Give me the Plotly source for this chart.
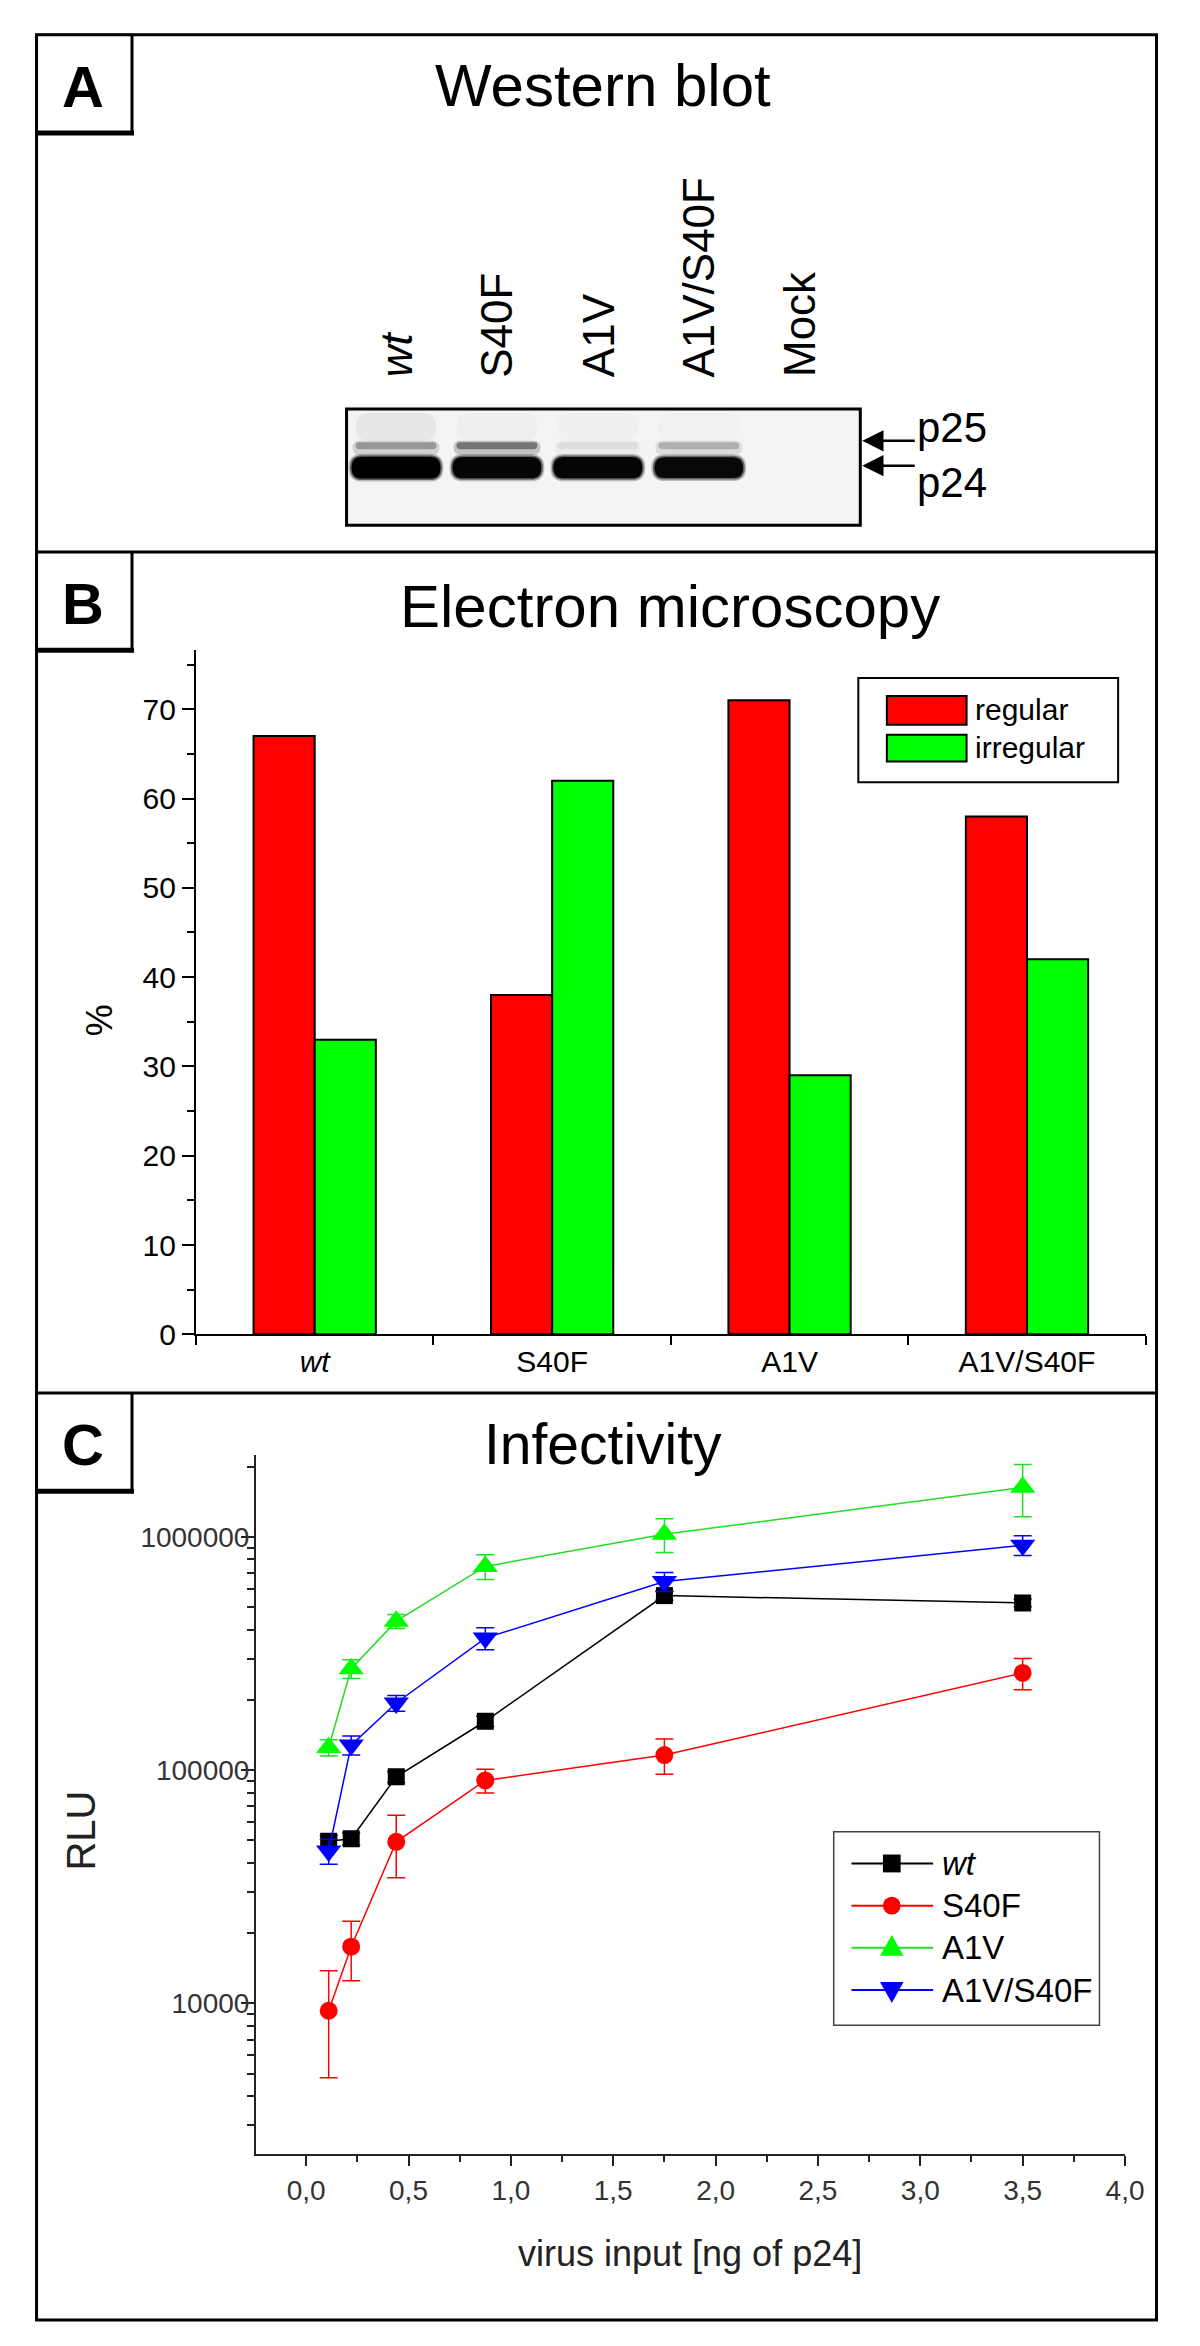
import plotly.graph_objects as go

W, H = 1200, 2346
FONT = "Liberation Sans, Arial, sans-serif"

# panel A: western blot, relative band signal per lane (read from the blot)
blot_lanes = ["<i>wt</i>", "S40F", "A1V", "A1V/S40F", "Mock"]
p24_signal = [1.0, 0.95, 0.95, 0.92, 0.0]
p25_signal = [0.55, 0.8, 0.12, 0.4, 0.0]
smear_signal = [0.05, 0.025, 0.02, 0.015, 0.0]

# panel B: electron microscopy, % of particles
em_labels = ["<i>wt</i>", "S40F", "A1V", "A1V/S40F"]
regular = [67, 38, 71, 58]
irregular = [33, 62, 29, 42]

# panel C: infectivity, RLU vs virus input (ng p24)
virus_input = [0.11, 0.22, 0.44, 0.875, 1.75, 3.5]
rlu_wt = [49500, 50800, 93600, 162000, 560000, 521000]
rlu_wt_err = [3000, 3000, 5000, 8000, 25000, 20000]
rlu_s40f = [9300, 17500, 49300, 90300, 116000, 261000]
rlu_s40f_err = [4500, 5000, 14700, 10500, 20000, 40000]
rlu_a1v = [125000, 272000, 435000, 747000, 1026000, 1630000]
rlu_a1v_err = [10000, 25000, 30000, 90000, 170000, 410000]
rlu_a1v_s40f = [45000, 128000, 194000, 368000, 643000, 921000]
rlu_a1v_s40f_err = [5500, 12000, 15000, 40000, 60000, 90000]


def px(x):
    return x / W


def py(y):
    return 1 - y / H


def note(text, x, y, size, color="black", xanchor="center", yanchor="middle", **kw):
    return dict(text=text, xref="paper", yref="paper", x=px(x), y=py(y), xanchor=xanchor, yanchor=yanchor,
                showarrow=False, font=dict(family=FONT, size=size, color=color), **kw)


fig = go.Figure()

# ---- panel B bars
fig.add_trace(go.Bar(x=em_labels, y=regular, name="regular", marker=dict(color="#ff0000", line=dict(color="black", width=2)),
                     xaxis="x", yaxis="y", showlegend=False))
fig.add_trace(go.Bar(x=em_labels, y=irregular, name="irregular", marker=dict(color="#00ff00", line=dict(color="black", width=2)),
                     xaxis="x", yaxis="y", showlegend=False))

# ---- panel C lines
series = [
    ("<i>wt</i>", rlu_wt, rlu_wt_err, "black", "black", "square", 17),
    ("S40F", rlu_s40f, rlu_s40f_err, "#ff0000", "#ff0000", "circle", 18),
    ("A1V", rlu_a1v, rlu_a1v_err, "#22dd22", "#00ff00", "triangle-up", 22),
    ("A1V/S40F", rlu_a1v_s40f, rlu_a1v_s40f_err, "#0000ff", "#0000ff", "triangle-down", 22),
]
for name, vals, errs, color, mcolor, symbol, size in series:
    fig.add_trace(go.Scatter(
        x=virus_input, y=vals, name=name, mode="lines+markers",
        line=dict(color=color, width=1.5),
        marker=dict(symbol=symbol, size=size, color=mcolor),
        error_y=dict(type="data", array=errs, color=color, thickness=1.5, width=9),
        xaxis="x2", yaxis="y2", showlegend=False,
    ))

# ---- panel A: invisible anchor trace for the blot axes
fig.add_trace(go.Scatter(x=list(range(len(blot_lanes))), y=[0] * len(blot_lanes), mode="markers",
                         marker=dict(opacity=0), hoverinfo="skip", showlegend=False, xaxis="x3", yaxis="y3"))

shapes = []
annotations = []

# outer frame and panel dividers
shapes.append(dict(type="rect", xref="paper", yref="paper", x0=px(29), x1=px(1167), y0=py(27), y1=py(2329),
                   line=dict(color="black", width=3)))
for yd in (548, 1395):
    shapes.append(dict(type="line", xref="paper", yref="paper", x0=px(29), x1=px(1167), y0=py(yd), y1=py(yd),
                       line=dict(color="black", width=3)))

# panel letter boxes
for letter, top in (("A", 27), ("B", 548), ("C", 1395)):
    bottom = top + 99
    shapes.append(dict(type="rect", xref="paper", yref="paper", x0=px(29), x1=px(126), y0=py(top), y1=py(bottom),
                       line=dict(color="black", width=2)))
    shapes.append(dict(type="line", xref="paper", yref="paper", x0=px(126), x1=px(126), y0=py(top), y1=py(bottom + 2),
                       line=dict(color="black", width=3)))
    shapes.append(dict(type="line", xref="paper", yref="paper", x0=px(29), x1=px(128), y0=py(bottom), y1=py(bottom),
                       line=dict(color="black", width=5)))
    annotations.append(note(f"<b>{letter}</b>", 76, top + 52, 58))

# titles
annotations.append(note("Western blot", 605, 78, 60))
annotations.append(note("Electron microscopy", 673, 603, 60))
annotations.append(note("Infectivity", 605, 1446, 57))

# ---- western blot drawing (blot axes in lane units x, pixel units y)
LANE_PX = 102.5


def band_path(xc, yc, half_w, half_h):
    r = half_h / LANE_PX
    x0, x1 = xc - half_w, xc + half_w
    y0, y1 = yc - half_h, yc + half_h
    return (f"M{x0 + r},{y0} L{x1 - r},{y0} Q{x1},{y0} {x1},{yc} Q{x1},{y1} {x1 - r},{y1} "
            f"L{x0 + r},{y1} Q{x0},{y1} {x0},{yc} Q{x0},{y0} {x0 + r},{y0} Z")


shapes.append(dict(type="rect", xref="x3 domain", yref="y3 domain", x0=0, x1=1, y0=0, y1=1,
                   fillcolor="#f4f4f4", line=dict(width=0), layer="below"))
for i, (s24, s25, sm) in enumerate(zip(p24_signal, p25_signal, smear_signal)):
    if sm > 0:
        shapes.append(dict(type="path", xref="x3", yref="y3", path=band_path(i, 18, 0.4, 14),
                           fillcolor="black", opacity=sm, line=dict(width=0)))
    if s25 > 0:
        shapes.append(dict(type="path", xref="x3", yref="y3", path=band_path(i, 39, 0.43, 7),
                           fillcolor="black", opacity=0.25 * s25, line=dict(width=0)))
        shapes.append(dict(type="path", xref="x3", yref="y3", path=band_path(i, 37, 0.40, 3.5),
                           fillcolor="black", opacity=0.5 * s25, line=dict(width=0)))
    if s24 > 0:
        hh = 5 + 6 * s24
        shapes.append(dict(type="path", xref="x3", yref="y3", path=band_path(i, 59, 0.47, hh + 3),
                           fillcolor="black", opacity=0.25 * s24, line=dict(width=0)))
        shapes.append(dict(type="path", xref="x3", yref="y3", path=band_path(i, 59, 0.455, hh + 1.5),
                           fillcolor="black", opacity=0.5 * s24, line=dict(width=0)))
        shapes.append(dict(type="path", xref="x3", yref="y3", path=band_path(i, 59, 0.44, hh),
                           fillcolor="black", opacity=s24, line=dict(width=0)))
shapes.append(dict(type="rect", xref="x3 domain", yref="y3 domain", x0=0, x1=1, y0=0, y1=1,
                   line=dict(color="black", width=3)))

for i, lane in enumerate(blot_lanes):
    annotations.append(dict(text=lane, xref="x3", yref="paper", x=i, y=py(374), xanchor="center",
                            yanchor="bottom", textangle=-90, showarrow=False,
                            font=dict(family=FONT, size=44, color="black")))

for label, y_arrow, y_text in (("p25", 436, 423), ("p24", 461, 478)):
    annotations.append(dict(text="", xref="paper", yref="paper", x=px(868), y=py(y_arrow), ax=54, ay=0,
                            showarrow=True, arrowhead=2, arrowsize=1.7, arrowwidth=2.5, arrowcolor="black"))
    annotations.append(note(label, 922, y_text, 42, xanchor="left"))

# ---- panel B legend and axis title
shapes.append(dict(type="rect", xref="paper", yref="paper", x0=px(864), x1=px(1128), y0=py(675), y1=py(780),
                   line=dict(color="black", width=2)))
for name, color, top, bottom, yc in (("regular", "#ff0000", 693, 722, 707), ("irregular", "#00ff00", 732, 759, 745)):
    shapes.append(dict(type="rect", xref="paper", yref="paper", x0=px(893), x1=px(974), y0=py(top), y1=py(bottom),
                       fillcolor=color, line=dict(color="black", width=2)))
    annotations.append(note(name, 981, yc, 30, xanchor="left"))
annotations.append(note("%", 93, 1020, 36, textangle=-90))

# ---- panel C legend (drawn as a box with line + marker samples)
shapes.append(dict(type="rect", xref="paper", yref="paper", x0=px(839), x1=px(1109), y0=py(1837), y1=py(2032),
                   line=dict(color="#444", width=1.5), fillcolor="white", layer="above"))
for k, (name, _, _, color, mcolor, symbol, _) in enumerate(series):
    yc = 1869 + 42.5 * k
    shapes.append(dict(type="line", xref="paper", yref="paper", x0=px(857), x1=px(940), y0=py(yc), y1=py(yc),
                       line=dict(color=color, width=2)))
    if symbol == "square":
        shapes.append(dict(type="rect", xref="paper", yref="paper", x0=px(889), x1=px(907), y0=py(yc - 9),
                           y1=py(yc + 9), fillcolor=mcolor, line=dict(width=0)))
    elif symbol == "circle":
        shapes.append(dict(type="circle", xref="paper", yref="paper", x0=px(889), x1=px(907), y0=py(yc - 9),
                           y1=py(yc + 9), fillcolor=mcolor, line=dict(width=0)))
    else:
        sgn = 1 if symbol == "triangle-up" else -1
        path = (f"M{px(886)},{py(yc + 8 * sgn)} L{px(910)},{py(yc + 8 * sgn)} "
                f"L{px(898)},{py(yc - 13 * sgn)} Z")
        shapes.append(dict(type="path", xref="paper", yref="paper", path=path, fillcolor=mcolor,
                           line=dict(width=0)))
    annotations.append(note(name, 947, yc, 33, xanchor="left"))

# ---- panel C axis titles
annotations.append(note("RLU", 74, 1836, 40, color="#222", textangle=-90))
annotations.append(note("virus input [ng of p24]", 693, 2262, 36, color="#222"))

log_minor = [m * 10 ** e for e in (3, 4, 5, 6) for m in range(2, 10)]

fig.update_layout(
    width=W, height=H, autosize=False,
    margin=dict(l=0, r=0, t=0, b=0),
    paper_bgcolor="white", plot_bgcolor="white",
    separators=",.", showlegend=False,
    barmode="group", bargap=0.485, bargroupgap=0,
    font=dict(family=FONT, color="black"),
    shapes=shapes, annotations=annotations,
    xaxis=dict(domain=[px(191), px(1156)], anchor="y", type="category", range=[-0.5, 3.5],
               showline=True, linecolor="black", linewidth=2, ticks="outside", tickson="boundaries",
               ticklen=9, tickwidth=2, tickcolor="black", tickfont=dict(size=30), showgrid=False,
               zeroline=False, fixedrange=True),
    yaxis=dict(domain=[py(1336), py(647)], anchor="x", range=[0, 76.6], dtick=10, tick0=0,
               showline=True, linecolor="black", linewidth=2, ticks="outside", ticklen=12, tickwidth=2,
               tickcolor="black", tickfont=dict(size=30),
               minor=dict(dtick=5, tick0=0, ticks="outside", ticklen=7, tickwidth=2, tickcolor="black"),
               showgrid=False, zeroline=False, fixedrange=True),
    xaxis2=dict(domain=[px(252), px(1135)], anchor="y2", range=[-0.245, 4.0], dtick=0.5, tick0=0,
                tickformat=".1f", showline=True, linecolor="#222", linewidth=2, ticks="outside",
                ticklen=10, tickwidth=2, tickcolor="#222", tickfont=dict(size=28, color="#333"),
                minor=dict(dtick=0.25, tick0=0, ticks="outside", ticklen=6, tickwidth=2, tickcolor="#222"),
                showgrid=False, zeroline=False, fixedrange=True),
    yaxis2=dict(domain=[py(2162), py(1458)], anchor="x2", type="log", range=[3.353, 6.349],
                tickvals=[1e4, 1e5, 1e6], ticktext=["10000", "100000", "1000000"],
                showline=True, linecolor="#222", linewidth=2, ticks="outside", ticklen=13, tickwidth=2,
                tickcolor="#222", tickfont=dict(size=28, color="#333"), ticklabelstandoff=-14,
                minor=dict(tickvals=log_minor, ticks="outside", ticklen=7, tickwidth=2, tickcolor="#222"),
                showgrid=False, zeroline=False, fixedrange=True),
    xaxis3=dict(domain=[px(344), px(866)], anchor="y3", range=[-0.49, 4.6], visible=False, fixedrange=True),
    yaxis3=dict(domain=[py(521), py(404)], anchor="x3", range=[117, 0], visible=False, fixedrange=True),
)

fig.write_html("out.html")
